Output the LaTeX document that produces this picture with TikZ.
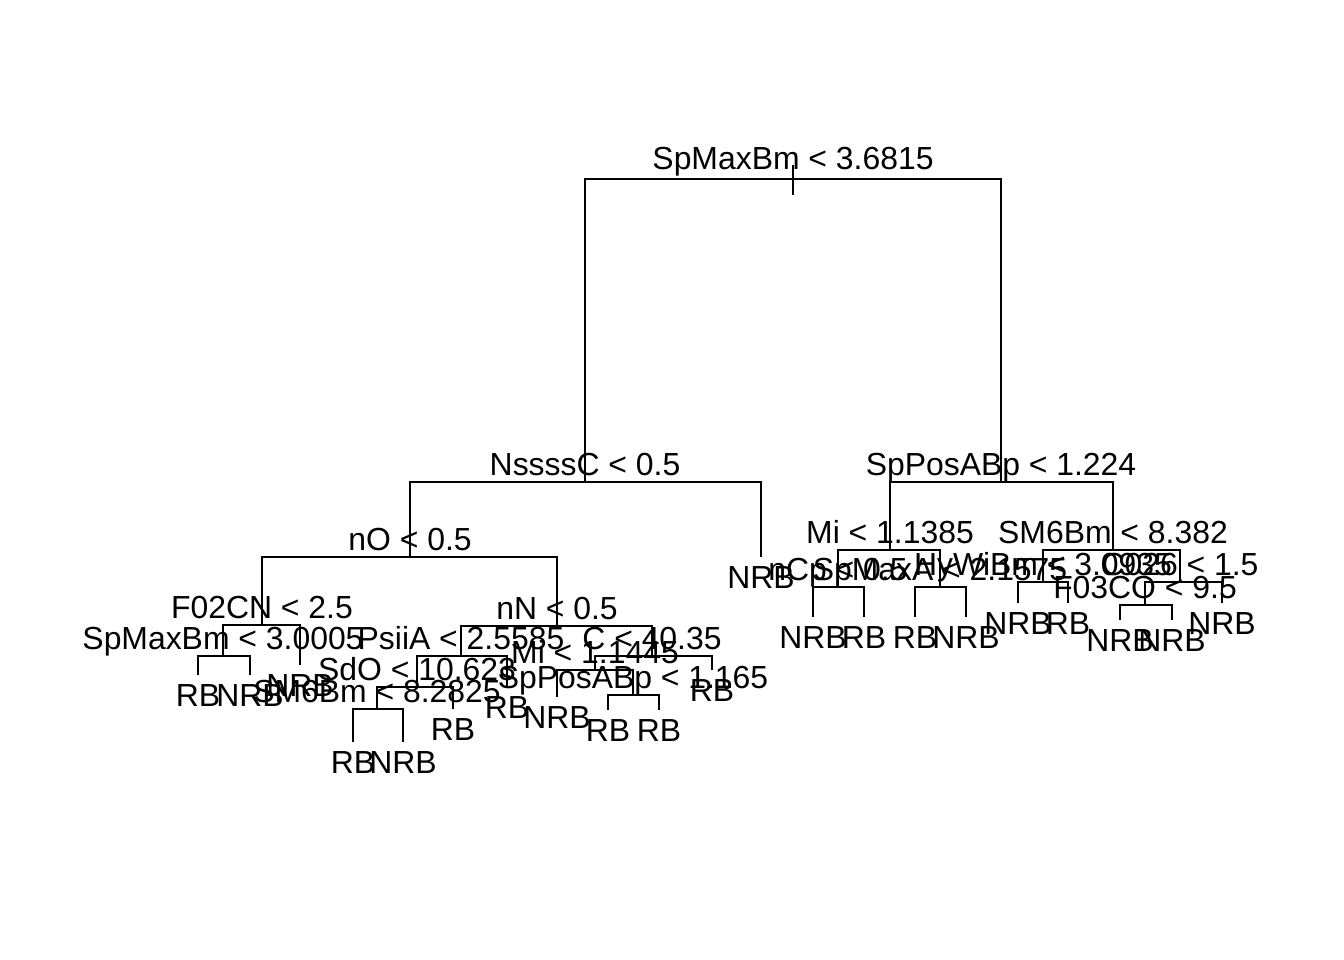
\documentclass[tikz,border=0pt]{standalone}
\usepackage{fontspec}
\setmainfont{Liberation Sans}
\usepackage{tikz}

\begin{document}
\begin{tikzpicture}[x=1pt, y=-1pt, line width=2pt,
    split/.style={anchor=base, yshift=7pt, inner sep=0pt},
    leaf/.style={anchor=base, yshift=-31pt, inner sep=0pt},
    every node/.style={font=\fontsize{31.9}{38}\selectfont}]
  \fill[white] (0,0) rectangle (1344,960) ; %
  \useasboundingbox (0,0) rectangle (1344,960) ; %
  % Splits
  \coordinate (root) at (793,179) ; %
  \coordinate (nssssc) at (585,482) ; %
  \coordinate (sppos) at (1001,482) ; %
  \coordinate (no) at (410,557) ; %
  \coordinate (f02cn) at (262,625) ; %
  \coordinate (nn) at (557,626) ; %
  \coordinate (spmax) at (223,656) ; %
  \coordinate (psiia) at (461,656) ; %
  \coordinate (c) at (652,656) ; %
  \coordinate (sdo) at (417,687) ; %
  \coordinate (sm6) at (377,709) ; %
  \coordinate (mi) at (595,670) ; %
  \coordinate (spposb) at (633,695) ; %
  \coordinate (mib) at (890,550) ; %
  \coordinate (sm6b) at (1113,550) ; %
  \coordinate (ncp) at (838,587) ; %
  \coordinate (spmaxa) at (940,587) ; %
  \coordinate (hywi) at (1043,582) ; %
  \coordinate (c026) at (1180,582) ; %
  \coordinate (f03co) at (1145,605) ; %
  % Leaves
  \coordinate (nssssc-r) at (761,557) ; %
  \coordinate (f02cn-r) at (300,665) ; %
  \coordinate (spmax-l) at (198,675) ; %
  \coordinate (spmax-r) at (250,675) ; %
  \coordinate (psiia-r) at (507,687) ; %
  \coordinate (sdo-r) at (453,709) ; %
  \coordinate (sm6-l) at (353,742) ; %
  \coordinate (sm6-r) at (403,742) ; %
  \coordinate (c-r) at (712,670) ; %
  \coordinate (mi-l) at (557,697) ; %
  \coordinate (spposb-l) at (608,710) ; %
  \coordinate (spposb-r) at (659,710) ; %
  \coordinate (ncp-l) at (813,617) ; %
  \coordinate (ncp-r) at (864,617) ; %
  \coordinate (spmaxa-l) at (915,617) ; %
  \coordinate (spmaxa-r) at (966,617) ; %
  \coordinate (hywi-l) at (1018,603) ; %
  \coordinate (hywi-r) at (1068,603) ; %
  \coordinate (c026-r) at (1222,603) ; %
  \coordinate (f03co-l) at (1120,620) ; %
  \coordinate (f03co-r) at (1172,620) ; %
  % Edges
  \draw ([yshift=14pt]root) -- ([yshift=-16pt]root) ; %
  \draw (root) -| (nssssc) (root) -| (sppos) ; %
  \draw (nssssc) -| (no) (nssssc) -| (nssssc-r) ; %
  \draw (no) -| (f02cn) (no) -| (nn) ; %
  \draw (f02cn) -| (spmax) (f02cn) -| (f02cn-r) ; %
  \draw (spmax) -| (spmax-l) (spmax) -| (spmax-r) ; %
  \draw (nn) -| (psiia) (nn) -| (c) ; %
  \draw (psiia) -| (sdo) (psiia) -| (psiia-r) ; %
  \draw (sdo) -| (sm6) (sdo) -| (sdo-r) ; %
  \draw (sm6) -| (sm6-l) (sm6) -| (sm6-r) ; %
  \draw (c) -| (mi) (c) -| (c-r) ; %
  \draw (mi) -| (mi-l) (mi) -| (spposb) ; %
  \draw (spposb) -| (spposb-l) (spposb) -| (spposb-r) ; %
  \draw (sppos) -| (mib) (sppos) -| (sm6b) ; %
  \draw (mib) -| (ncp) (mib) -| (spmaxa) ; %
  \draw (ncp) -| (ncp-l) (ncp) -| (ncp-r) ; %
  \draw (spmaxa) -| (spmaxa-l) (spmaxa) -| (spmaxa-r) ; %
  \draw (sm6b) -| (hywi) (sm6b) -| (c026) ; %
  \draw (hywi) -| (hywi-l) (hywi) -| (hywi-r) ; %
  \draw (c026) -| (f03co) (c026) -| (c026-r) ; %
  \draw (f03co) -| (f03co-l) (f03co) -| (f03co-r) ; %
  % Split labels
  \node[split] (root-lab) at ([yshift=2pt]root) {SpMaxBm < 3.6815} ; %
  \node[split] (nssssc-lab) at (nssssc) {NssssC < 0.5} ; %
  \node[split] (sppos-lab) at (sppos) {SpPosABp < 1.224} ; %
  \node[split] (no-lab) at (no) {nO < 0.5} ; %
  \node[split] (f02cn-lab) at (f02cn) {F02CN < 2.5} ; %
  \node[split] (nn-lab) at (nn) {nN < 0.5} ; %
  \node[split] (spmax-lab) at (spmax) {SpMaxBm < 3.0005} ; %
  \node[split] (psiia-lab) at (psiia) {PsiiA < 2.5585} ; %
  \node[split] (c-lab) at (c) {C < 40.35} ; %
  \node[split] (sdo-lab) at (sdo) {SdO < 10.623} ; %
  \node[split] (sm6-lab) at (sm6) {SM6Bm < 8.2825} ; %
  \node[split] (mi-lab) at (mi) {Mi < 1.1445} ; %
  \node[split] (spposb-lab) at (spposb) {SpPosABp < 1.165} ; %
  \node[split] (mib-lab) at (mib) {Mi < 1.1385} ; %
  \node[split] (sm6b-lab) at (sm6b) {SM6Bm < 8.382} ; %
  \node[split] (ncp-lab) at (ncp) {nCp < 0.5} ; %
  \node[split] (spmaxa-lab) at (spmaxa) {SpMaxA < 2.1575} ; %
  \node[split] (hywi-lab) at (hywi) {HyWiBm < 3.0935} ; %
  \node[split] (c026-lab) at (c026) {C026 < 1.5} ; %
  \node[split] (f03co-lab) at (f03co) {F03CO < 9.5} ; %
  % Leaf labels
  \node[leaf] at (nssssc-r) {NRB} ; %
  \node[leaf] at (f02cn-r) {NRB} ; %
  \node[leaf] at (spmax-l) {RB} ; %
  \node[leaf] at (spmax-r) {NRB} ; %
  \node[leaf] at (psiia-r) {RB} ; %
  \node[leaf] at (sdo-r) {RB} ; %
  \node[leaf] at (sm6-l) {RB} ; %
  \node[leaf] at (sm6-r) {NRB} ; %
  \node[leaf] at (c-r) {RB} ; %
  \node[leaf] at (mi-l) {NRB} ; %
  \node[leaf] at (spposb-l) {RB} ; %
  \node[leaf] at (spposb-r) {RB} ; %
  \node[leaf] at (ncp-l) {NRB} ; %
  \node[leaf] at (ncp-r) {RB} ; %
  \node[leaf] at (spmaxa-l) {RB} ; %
  \node[leaf] at (spmaxa-r) {NRB} ; %
  \node[leaf] at (hywi-l) {NRB} ; %
  \node[leaf] at (hywi-r) {RB} ; %
  \node[leaf] at (c026-r) {NRB} ; %
  \node[leaf] at (f03co-l) {NRB} ; %
  \node[leaf] at (f03co-r) {NRB} ; %
\end{tikzpicture}
\end{document}
